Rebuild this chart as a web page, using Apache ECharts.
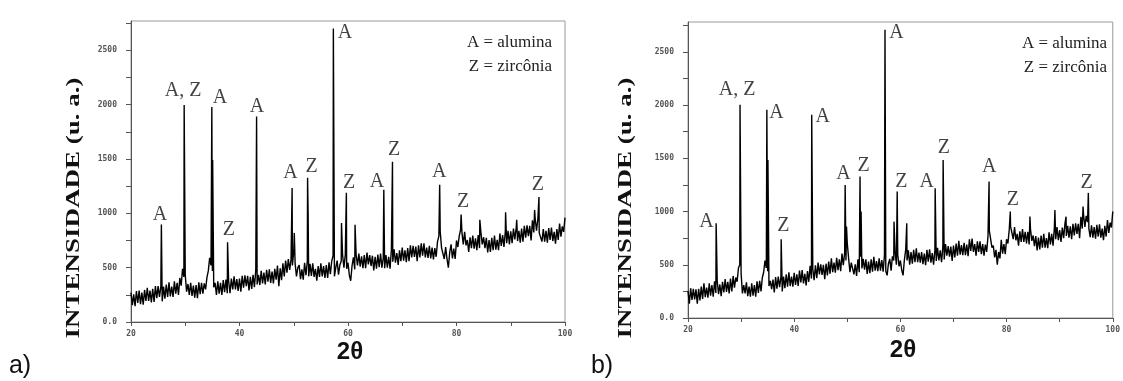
<!DOCTYPE html>
<html>
<head>
<meta charset="utf-8">
<script src="https://cdn.jsdelivr.net/npm/echarts@6/dist/echarts.min.js"></script>
<style>
html,body{margin:0;padding:0;background:#fff;}
#c{width:1123px;height:381px;}
</style>
</head>
<body>
<div id="c"></div>
<script>
// ---- data ----
const X_START = 20, X_STEP = 0.25;
const xLabelValues = [20, 40, 60, 80, 100];
const yLabelValues = [0, 500, 1000, 1500, 2000, 2500];

// panel a) noisy background, one value every 0.25 deg from 20 to 100 (4 per degree)
const baselineA = [
270,155,255,145, 285,175,290,165, 270,160,295,195, 315,195,290,180, 305,185,330,220,
330,230,325,190, 325,215,345,230, 365,235,325,230, 375,260,360,250, 405,335,490,415,
430,280,350,250, 360,240,335,225, 340,220,365,255, 360,260,355,300, 410,470,590,520,
470,320,360,250, 375,260,360,250, 385,275,390,265, 375,265,400,300, 420,300,395,285,
400,280,425,315, 430,330,425,290, 415,305,435,320, 475,345,435,340, 470,355,455,345,
480,370,485,360, 465,355,490,390, 520,330,495,385, 540,420,565,455, 580,480,575,520,
650,540,420,500, 525,395,485,390, 545,430,560,420, 535,425,540,415, 490,380,515,415,
540,420,515,405, 525,405,550,440, 560,610,420,500, 565,435,525,560, 615,500,620,490,
545,430,380,520, 595,485,620,520, 630,510,605,495, 615,495,640,530, 615,515,610,475,
600,490,620,505, 630,500,590,495, 615,500,600,490, 665,555,670,545, 635,525,660,560,
685,565,660,550, 680,560,705,595, 700,600,695,560, 705,595,725,610, 725,595,685,590,
700,585,685,575, 680,600,740,790, 830,680,690,580, 690,580,500,640, 715,585,675,580,
750,690,790,850, 825,715,830,705, 755,645,780,680, 795,675,770,660, 800,680,825,715,
780,680,775,640, 755,645,775,660, 795,665,755,660, 815,700,800,690, 835,725,840,715,
835,725,860,760, 865,745,840,730, 860,740,885,775, 890,790,885,750, 935,825,955,840,
950,820,830,740, 855,740,840,730, 865,755,870,745, 830,720,855,755, 905,785,880,830,
960
];
// panel a) diffraction peaks [2theta, intensity]
const peaksA = [
[25.6,897],[29.8,1996],[34.9,1978],[35.05,1490],[37.8,733],[43.15,1890],
[49.7,1233],[50.1,820],[52.55,1327],[52.65,1000],[57.3,2700],[58.8,910],
[59.7,1190],[61.3,895],[66.6,1218],[68.2,1475],[76.9,1264],[80.85,989],
[84.3,940],[89.05,1010],[91.1,940],[94.4,1030],[95.2,1150]
];
// panel a) phase labels [2theta, intensity, text]
const labelsA = [
[25.35,983,'A'],[29.6,2132,'A, Z'],[36.4,2068,'A'],[38.06,846,'Z'],[43.2,1985,'A'],
[49.4,1369,'A'],[53.3,1425,'Z'],[59.45,2665,'A'],[60.2,1278,'Z'],[65.35,1287,'A'],
[68.5,1581,'Z'],[76.8,1379,'A'],[81.2,1103,'Z'],[95.0,1259,'Z']
];

// panel b) noisy background
const baselineB = [
255,135,280,170, 275,175,270,135, 275,165,295,180, 325,195,285,190, 325,210,310,200,
345,235,350,225, 315,205,340,240, 365,245,340,230, 370,250,395,285, 380,340,470,500,
420,230,310,230, 335,205,295,200, 325,210,310,200, 345,235,350,250, 380,430,540,470,
440,300,350,270, 360,240,385,275, 390,290,385,250, 390,280,410,295, 430,300,390,295,
425,310,410,300, 445,335,450,325, 415,305,440,340, 490,370,465,355, 495,375,520,410,
505,405,500,365, 510,400,530,415, 560,430,520,425, 565,450,550,440, 605,495,610,540,
700,560,430,520, 530,410,505,395, 550,430,575,465, 555,455,550,415, 530,420,550,435,
575,445,535,440, 560,445,545,435, 590,440,400,510, 555,445,580,540, 620,500,595,485,
540,450,400,545, 640,540,635,500, 620,510,640,525, 655,525,615,520, 620,505,605,495,
640,530,645,520, 610,500,635,535, 660,540,635,525, 670,550,695,585, 675,575,670,535,
680,570,700,585, 725,595,685,590, 705,590,690,580, 740,630,745,620, 695,585,720,620,
720,600,695,585, 690,620,770,820, 810,660,680,570, 640,500,620,560, 735,605,695,600,
740,700,830,860, 850,740,855,730, 790,680,815,715, 835,715,810,700, 810,690,835,725,
775,675,770,635, 755,645,775,660, 790,660,750,655, 805,690,790,680, 850,740,855,730,
825,715,850,750, 890,770,865,755, 860,740,885,775, 890,790,885,750, 950,840,970,855,
960,900,840,760, 870,755,855,745, 875,765,880,755, 840,730,865,765, 920,800,895,850,
1000
];
const peaksB = [
[25.3,890],[29.8,2002],[34.85,1955],[35.05,1485],[37.55,740],[43.3,1908],
[49.6,1250],[49.85,858],[52.4,1328],[52.6,1000],[57.1,2707],[58.8,905],
[59.4,1187],[61.2,890],[66.55,1219],[68.05,1485],[76.7,1281],[80.7,999],
[84.4,952],[89.1,1015],[91.2,952],[94.4,1046],[95.4,1175]
];
const labelsB = [
[23.46,905,'A'],[29.26,2143,'A, Z'],[36.67,1927,'A'],[37.96,865,'Z'],[45.37,1889,'A'],
[49.26,1353,'A'],[53.09,1431,'Z'],[59.26,2679,'A'],[60.19,1281,'Z'],[64.94,1281,'A'],
[68.2,1601,'Z'],[76.72,1422,'A'],[81.17,1109,'Z'],[95.06,1266,'Z']
];

const yTitle = 'INTENSIDADE (u. a.)';
const xTitle = '2θ';
const legendLines = ['A = alumina', 'Z = zircônia'];
const panelTags = ['a)', 'b)'];

// ---- build ----
function trace(base, peaks) {
  const pts = base.map((v, i) => [X_START + i * X_STEP, v]).concat(peaks);
  pts.sort((p, q) => p[0] - q[0]);
  return pts;
}
function labelData(arr) {
  return arr.map(([x, y, t]) => ({ value: [x, y], name: t }));
}
const tickFont = { fontFamily: 'DejaVu Sans Mono', fontWeight: 'bold', fontSize: 8, color: '#555' };

function xAxis(idx) {
  return {
    type: 'value', gridIndex: idx, min: 20, max: 100, interval: 10,
    axisLine: { lineStyle: { color: '#555', width: 1 } },
    axisTick: { length: 4, lineStyle: { color: '#555' } },
    splitLine: { show: false },
    axisLabel: Object.assign({ margin: 8, formatter: v => xLabelValues.includes(v) ? String(v) : '' }, tickFont)
  };
}
function yAxis(idx, max) {
  return {
    type: 'value', gridIndex: idx, min: 0, max: max, interval: 250,
    axisLine: { show: true, lineStyle: { color: '#555', width: 1 } },
    axisTick: { show: true, length: 5, lineStyle: { color: '#555' } },
    splitLine: { show: false },
    axisLabel: Object.assign({ margin: 14, showMaxLabel: false,
      formatter: v => v === 0 ? '0.0' : (yLabelValues.includes(v) ? String(v) : '') }, tickFont)
  };
}
function lineSeries(idx, base, peaks) {
  return {
    type: 'line', xAxisIndex: idx, yAxisIndex: idx, data: trace(base, peaks),
    showSymbol: false, symbol: 'none', sampling: null,
    lineStyle: { color: '#000', width: 1.4 }, silent: true, z: 3
  };
}
function labelSeries(idx, labels) {
  return {
    type: 'scatter', xAxisIndex: idx, yAxisIndex: idx, data: labelData(labels),
    symbolSize: 1, itemStyle: { color: 'rgba(0,0,0,0)' }, silent: true, z: 5,
    label: { show: true, position: 'inside', formatter: '{b}',
      fontFamily: 'Liberation Serif', fontSize: 20, color: '#111' }
  };
}
function txt(x, y, text, font, opts) {
  return Object.assign({ type: 'text', x: x, y: y, silent: true,
    style: { text: text, font: font, fill: '#111', textAlign: 'center', textVerticalAlign: 'middle' } }, opts || {});
}
function rtxt(x, y, text, font) {
  return { type: 'text', x: x, y: y, silent: true,
    style: { text: text, font: font, fill: '#222', textAlign: 'right', textVerticalAlign: 'middle' } };
}

const chart = echarts.init(document.getElementById('c'), null, { renderer: 'canvas' });
chart.setOption({
  animation: false,
  backgroundColor: '#fff',
  grid: [
    { left: 131, right: 558, top: 21, bottom: 59, show: true, borderColor: '#999', borderWidth: 1 },
    { left: 688, right: 3, top: 22, bottom: 63, show: true, borderColor: '#999', borderWidth: 1 }
  ],
  xAxis: [xAxis(0), xAxis(1)],
  yAxis: [yAxis(0, 2770), yAxis(1, 2780)],
  series: [
    lineSeries(0, baselineA, peaksA), labelSeries(0, labelsA),
    lineSeries(1, baselineB, peaksB), labelSeries(1, labelsB)
  ],
  graphic: [
    txt(74, 208, yTitle, 'bold 18px "Liberation Serif"', { rotation: Math.PI / 2, scaleX: 1.5 }),
    txt(626, 208, yTitle, 'bold 18px "Liberation Serif"', { rotation: Math.PI / 2, scaleX: 1.5 }),
    txt(350, 352, xTitle, 'bold 24px "Liberation Sans"'),
    txt(903, 350, xTitle, 'bold 24px "Liberation Sans"'),
    txt(20, 366, panelTags[0], '25px "Liberation Sans"'),
    txt(602, 366, panelTags[1], '25px "Liberation Sans"'),
    rtxt(552, 43, legendLines[0], '17px "Liberation Serif"'),
    rtxt(552, 67, legendLines[1], '17px "Liberation Serif"'),
    rtxt(1107, 44, legendLines[0], '17px "Liberation Serif"'),
    rtxt(1107, 68, legendLines[1], '17px "Liberation Serif"')
  ]
});
</script>
</body>
</html>
